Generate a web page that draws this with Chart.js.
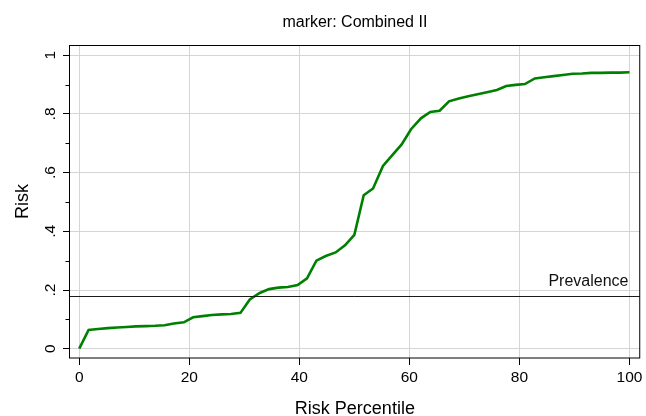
<!DOCTYPE html>
<html>
<head>
<meta charset="utf-8">
<script src="https://cdn.jsdelivr.net/npm/chart.js@4/dist/chart.umd.min.js"></script>
<style>
  html, body { margin: 0; padding: 0; background: #ffffff; }
  #wrap { width: 646px; height: 416px; }
</style>
</head>
<body>
<div id="wrap"><canvas id="c" width="646" height="416"></canvas></div>
<script>
// Risk curve: risk at each risk percentile
const percentile = [
  0.0, 1.7, 3.4, 5.2, 6.9, 8.6, 10.3, 12.1, 13.8, 15.5,
  17.2, 19.0, 20.7, 22.4, 24.1, 25.9, 27.6, 29.3, 31.0, 32.8,
  34.5, 36.2, 37.9, 39.7, 41.4, 43.1, 44.8, 46.6, 48.3, 50.0,
  51.7, 53.4, 55.2, 56.9, 58.6, 60.3, 62.1, 63.8, 65.5, 67.2,
  69.0, 70.7, 72.4, 74.1, 75.9, 77.6, 79.3, 81.0, 82.8, 84.5,
  86.2, 87.9, 89.7, 91.4, 93.1, 94.8, 96.6, 98.3, 100.0
];
const risk = [
  0.000, 0.064, 0.067, 0.070, 0.072, 0.074, 0.076, 0.077, 0.078, 0.080,
  0.086, 0.090, 0.107, 0.111, 0.115, 0.117, 0.118, 0.122, 0.168, 0.190,
  0.203, 0.208, 0.210, 0.217, 0.240, 0.300, 0.316, 0.328, 0.352, 0.388,
  0.523, 0.546, 0.623, 0.660, 0.696, 0.748, 0.785, 0.807, 0.811, 0.843,
  0.853, 0.860, 0.867, 0.874, 0.882, 0.895, 0.899, 0.902, 0.921, 0.925,
  0.929, 0.933, 0.937, 0.938, 0.940, 0.940, 0.941, 0.941, 0.942
];

const xTicks = [0, 20, 40, 60, 80, 100];
const xTickLabels = ['0', '20', '40', '60', '80', '100'];
const yTicks = [0, 0.2, 0.4, 0.6, 0.8, 1];
const yTickLabels = ['0', '.2', '.4', '.6', '.8', '1'];
const yMinorTicks = [0.1, 0.3, 0.5, 0.7, 0.9];

const prevalence = 0.18;
const prevalenceLabel = 'Prevalence';
const chartTitle = 'marker: Combined II';
const xTitle = 'Risk Percentile';
const yTitle = 'Risk';

const FONT = "'Liberation Sans', Arial, Helvetica, sans-serif";
const GRID = '#d5d5d5';
const INK = '#000000';

// Outline of the plot region plus minor ticks on the y axis
const framePlugin = {
  id: 'frame',
  afterDraw(chart) {
    const { ctx, chartArea: a, scales } = chart;
    ctx.save();
    ctx.strokeStyle = INK;
    ctx.lineWidth = 1;
    ctx.strokeRect(a.left - 0.5, a.top + 0.5, a.right - a.left + 0.5, a.bottom - a.top - 0.5);
    ctx.beginPath();
    yMinorTicks.forEach(v => {
      const y = Math.round(scales.y.getPixelForValue(v)) + 0.5;
      ctx.moveTo(a.left - 0.5, y);
      ctx.lineTo(a.left - 4.5, y);
    });
    ctx.stroke();
    ctx.restore();
  }
};

// Horizontal reference line at the prevalence, with its label
const prevalencePlugin = {
  id: 'prevalence',
  afterDatasetsDraw(chart) {
    const { ctx, chartArea: a, scales } = chart;
    const y = Math.round(scales.y.getPixelForValue(prevalence)) + 0.5;
    ctx.save();
    ctx.strokeStyle = '#1a1a1a';
    ctx.lineWidth = 1;
    ctx.beginPath();
    ctx.moveTo(a.left, y);
    ctx.lineTo(a.right, y);
    ctx.stroke();
    ctx.fillStyle = '#111111';
    ctx.font = '16px ' + FONT;
    ctx.textAlign = 'right';
    ctx.textBaseline = 'alphabetic';
    ctx.fillText(prevalenceLabel, scales.x.getPixelForValue(100) - 1, y - 11);
    ctx.restore();
  }
};

new Chart(document.getElementById('c'), {
  type: 'scatter',
  data: {
    datasets: [{
      data: percentile.map((p, i) => ({ x: p, y: risk[i] })),
      showLine: true,
      borderColor: '#008000',
      borderWidth: 2.6,
      pointRadius: 0,
      pointHoverRadius: 0,
      tension: 0,
      fill: false
    }]
  },
  options: {
    responsive: false,
    animation: false,
    devicePixelRatio: 1,
    layout: { padding: { left: 0, right: 4, top: 0, bottom: 0 } },
    plugins: {
      legend: { display: false },
      tooltip: { enabled: false },
      title: {
        display: true,
        text: chartTitle,
        fullSize: false,
        color: INK,
        font: { family: FONT, size: 16, weight: 'normal', lineHeight: 1.2 },
        padding: { top: 13, bottom: 12.8 }
      }
    },
    scales: {
      x: {
        type: 'linear',
        min: -1.68,
        max: 101.87,
        afterBuildTicks(scale) { scale.ticks = xTicks.map(v => ({ value: v })); },
        afterFit(scale) { scale.height = 58; },
        ticks: {
          color: INK,
          font: { family: FONT, size: 15.5 },
          padding: 3.5,
          maxRotation: 0,
          autoSkip: false,
          callback: (v) => xTickLabels[xTicks.indexOf(v)]
        },
        grid: { color: GRID, lineWidth: 1, drawTicks: true, tickLength: 7, tickColor: INK, tickWidth: 1 },
        border: { display: false },
        title: {
          display: true,
          text: xTitle,
          color: INK,
          font: { family: FONT, size: 18, lineHeight: 0.8 },
          padding: { top: 0, bottom: 0 }
        }
      },
      y: {
        type: 'linear',
        min: -0.0317,
        max: 1.035,
        afterBuildTicks(scale) { scale.ticks = yTicks.map(v => ({ value: v })); },
        afterFit(scale) { scale.width = 70; },
        ticks: {
          color: INK,
          font: { family: FONT, size: 15.5 },
          padding: 6,
          minRotation: 90,
          maxRotation: 90,
          crossAlign: 'center',
          autoSkip: false,
          callback: (v) => yTickLabels[yTicks.indexOf(v)]
        },
        grid: { color: GRID, lineWidth: 1, drawTicks: true, tickLength: 7, tickColor: INK, tickWidth: 1 },
        border: { display: false },
        title: {
          display: true,
          text: yTitle,
          color: INK,
          font: { family: FONT, size: 18, lineHeight: 0.8 },
          padding: { top: 15.5, bottom: 0 }
        }
      }
    }
  },
  plugins: [framePlugin, prevalencePlugin]
});
</script>
</body>
</html>
